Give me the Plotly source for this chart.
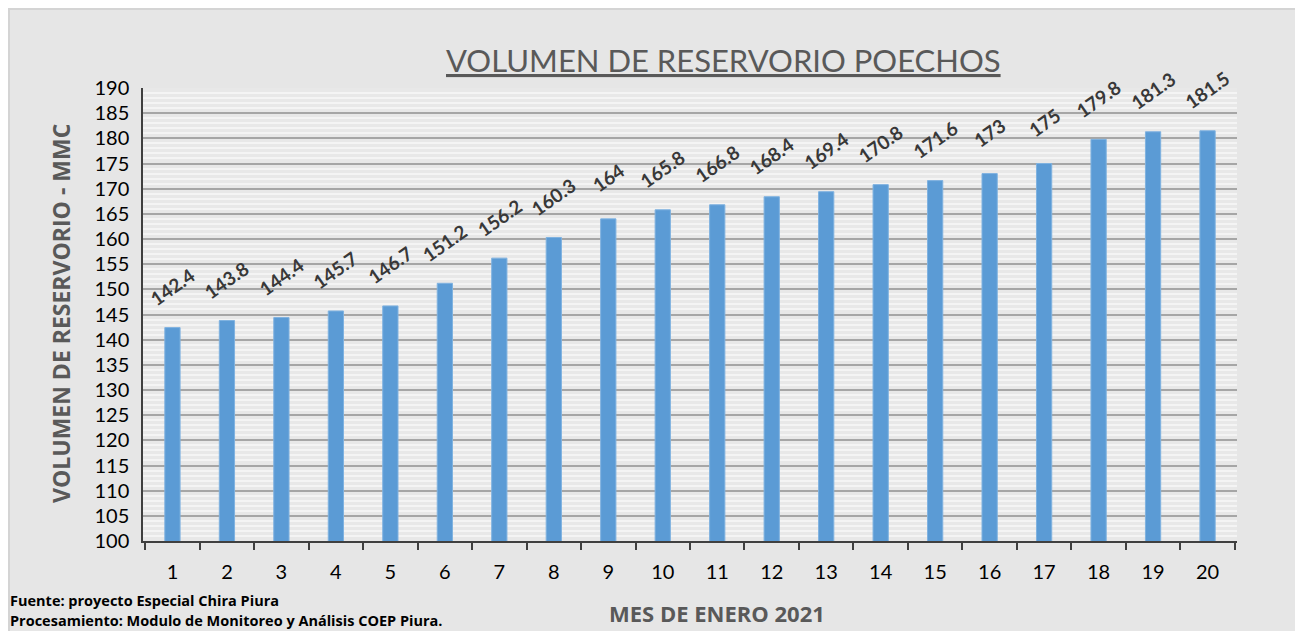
import plotly.graph_objects as go

days = [str(i) for i in range(1, 21)]
volumes = [142.4, 143.8, 144.4, 145.7, 146.7, 151.2, 156.2, 160.3, 164, 165.8,
           166.8, 168.4, 169.4, 170.8, 171.6, 173, 175, 179.8, 181.3, 181.5]
y_ticks = list(range(100, 191, 5))

title_text = "VOLUMEN DE RESERVORIO POECHOS"
y_title = "VOLUMEN DE RESERVORIO - MMC"
x_title = "MES DE ENERO 2021"
source_1 = "Fuente: proyecto Especial Chira Piura"
source_2 = "Procesamiento: Modulo de Monitoreo y Análisis COEP Piura."

FONT = "Lato"
WIDE = "Open Sans"
OFF = 8  # page body margin
W, H = 1303, 631
L, T = 143 - OFF, 88 - OFF
pw, ph = 1094, 453
R = W - L - pw
B = H - T - ph

def px_x(p):
    return (p - OFF - L) / pw

def px_y(p):
    return (T + ph - (p - OFF)) / ph

fig = go.Figure()
fig.add_trace(go.Bar(
    x=days, y=volumes, width=0.28,
    marker=dict(color="#5b9bd5", line=dict(color="#7fb2e0", width=1)),
    hoverinfo="x+y",
))

for i, v in enumerate(volumes):
    fig.add_annotation(
        x=i, y=v, xref="x", yref="y", text=f"<b>{v:g}</b>", showarrow=False,
        textangle=-35, yshift=41, font=dict(family=FONT, size=19, color="#383838"),
    )

# thin border along the top and left edge of the gray area
fig.add_shape(type="line", xref="paper", yref="paper", layer="below",
              x0=px_x(8), x1=px_x(1310), y0=px_y(9), y1=px_y(9),
              line=dict(color="#d4d4d4", width=2))
fig.add_shape(type="line", xref="paper", yref="paper", layer="below",
              x0=px_x(9), x1=px_x(9), y0=px_y(9), y1=px_y(640),
              line=dict(color="#d4d4d4", width=2))

fig.add_annotation(xref="paper", yref="paper", x=px_x(723), y=px_y(60),
                   text=f"<u>{title_text}</u>", showarrow=False,
                   font=dict(family=FONT, size=31, color="#595959"),
                   xanchor="center", yanchor="middle")
fig.add_annotation(xref="paper", yref="paper", x=px_x(61), y=px_y(314),
                   text=f"<b>{y_title}</b>", showarrow=False, textangle=-90,
                   font=dict(family=WIDE, size=23, color="#595959"),
                   xanchor="center", yanchor="middle")
fig.add_annotation(xref="paper", yref="paper", x=px_x(717), y=px_y(613),
                   text=f"<b>{x_title}</b>", showarrow=False,
                   font=dict(family=WIDE, size=22, color="#595959"),
                   xanchor="center", yanchor="middle")
fig.add_annotation(xref="paper", yref="paper", x=px_x(8), y=px_y(600),
                   text=f"<b>{source_1}</b>", showarrow=False,
                   font=dict(family=WIDE, size=14.5, color="black"),
                   xanchor="left", yanchor="middle")
fig.add_annotation(xref="paper", yref="paper", x=px_x(8), y=px_y(620),
                   text=f"<b>{source_2}</b>", showarrow=False,
                   font=dict(family=WIDE, size=14.5, color="black"),
                   xanchor="left", yanchor="middle")

fig.update_layout(
    width=W, height=H,
    margin=dict(l=L, r=R, t=T, b=B, pad=0),
    paper_bgcolor="#e6e6e6", plot_bgcolor="#e8e8e8",
    showlegend=False, bargap=0.72,
    font=dict(family=FONT, color="black"),
)
fig.update_xaxes(
    type="category", tickson="boundaries", ticks="outside", ticklen=7,
    tickcolor="#404040", tickwidth=1.5,
    showline=True, linecolor="#404040", linewidth=1.5, showgrid=False,
    tickfont=dict(family=FONT, size=20, color="black"), ticklabelstandoff=12,
)
fig.update_yaxes(
    range=[100, 190], tickvals=y_ticks, ticktext=[str(v) for v in y_ticks],
    showline=True, linecolor="#404040", linewidth=1.5,
    showgrid=True, gridcolor="#a6a6a6", gridwidth=2,
    minor=dict(dtick=1, showgrid=True, gridcolor="#f4f4f4", gridwidth=2),
    tickfont=dict(family=FONT, size=20, color="black"), ticks="",
    ticklabelstandoff=8, zeroline=False,
)

fig.write_html("out.html")
